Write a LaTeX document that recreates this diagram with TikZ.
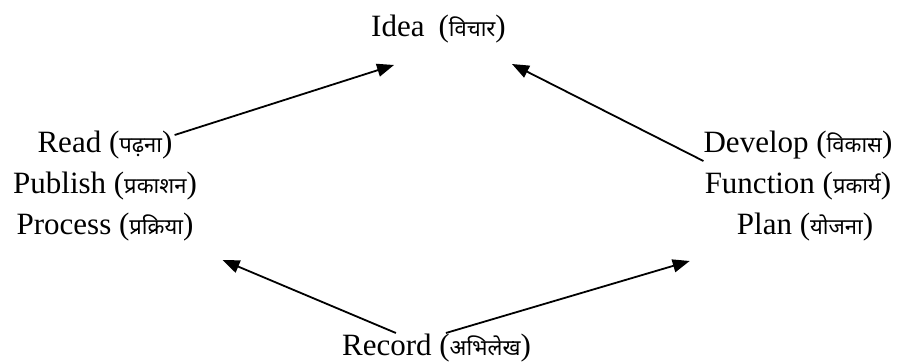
\documentclass[tikz,border=0pt]{standalone}
\usepackage{fontspec}
\setmainfont{Liberation Serif}
\newfontfamily\devafont[Script=Devanagari]{Noto Sans}
\usetikzlibrary{calc,arrows.meta}
% Hindi glosses, set a little smaller than the English words
\newcommand{\hindi}[1]{{\devafont\fontsize{22}{26}\selectfont #1}}

\begin{document}
\begin{tikzpicture}[x=1pt,y=-1pt,
  term/.style={font=\fontsize{31}{37}\selectfont, inner sep=0pt, anchor=base},
  link/.style={line width=1.8pt, -{Triangle[length=17pt,width=13pt]}}]
\useasboundingbox (0,0) rectangle (899,363);

% top
\node[term] (idea) at (438.5,37) {Idea\hspace{0.45em}(\hindi{विचार})};

% left block
\node[term] (read)    at (105,153) {Read (\hindi{पढ़ना})};
\node[term] (publish) at (105,194) {Publish (\hindi{प्रकाशन})};
\node[term] (process) at (105,235) {Process (\hindi{प्रक्रिया})};

% right block
\node[term] (develop)  at (798,153) {Develop (\hindi{विकास})};
\node[term] (function) at (798,194) {Function (\hindi{प्रकार्य})};
\node[term] (plan)     at (805,235) {Plan (\hindi{योजना})};

% bottom
\node[term] (record) at (436.5,355) {Record (\hindi{अभिलेख})};

% cycle arrows
\draw[link] ([shift={(2,-18)}]read.base east) -- ([shift={(23,28)}]idea.base west);
\draw[link] ([shift={(0,8)}]develop.base west) -- ([shift={(6,27)}]idea.base east);
\draw[link] ([shift={(54,-22)}]record.base west) -- ([shift={(29,25)}]process.base east);
\draw[link] ([shift={(104,-22)}]record.base west) -- ([shift={(-47,26)}]plan.base west);
\end{tikzpicture}
\end{document}
